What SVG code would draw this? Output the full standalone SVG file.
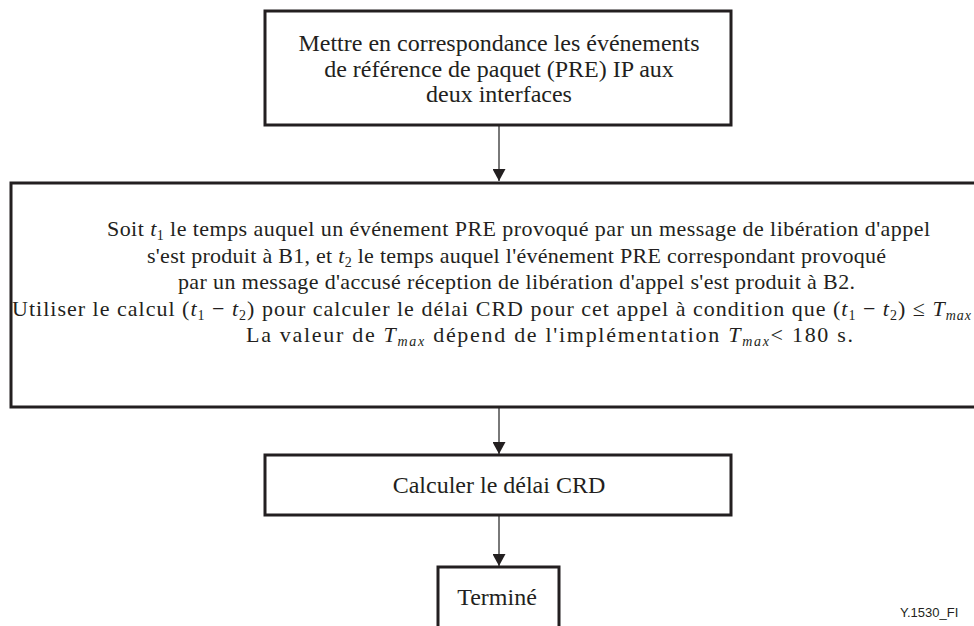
<svg xmlns="http://www.w3.org/2000/svg" width="974" height="626" viewBox="0 0 974 626">
<style>
.box{fill:#fff;stroke:#231f20;stroke-width:3}
.t{font-family:"Liberation Serif","Times New Roman",serif;font-size:24px;fill:#231f20}
.b{font-size:22px}
.c{text-anchor:middle}
.i{font-style:italic}
.sub{font-size:14px}
.conn{stroke:#4d4d4d;stroke-width:1.5;fill:none}
.foot{font-family:"Liberation Sans",Arial,sans-serif;font-size:13px;fill:#231f20}
</style>
<defs>
<marker id="ah" markerWidth="12" markerHeight="13" refX="12" refY="6.5" orient="auto" markerUnits="userSpaceOnUse">
<path d="M0,0 L12,6.5 L0,13 Z" fill="#231f20"/>
</marker>
</defs>
<g id="connectors">
<line class="conn" x1="499" y1="126" x2="499" y2="181" marker-end="url(#ah)"/>
<line class="conn" x1="499" y1="408" x2="499" y2="454" marker-end="url(#ah)"/>
<line class="conn" x1="499" y1="516" x2="499" y2="566" marker-end="url(#ah)"/>
</g>
<g id="node1">
<rect class="box" x="265" y="11" width="466" height="114"/>
<text class="t c" x="499" y="51">Mettre en correspondance les événements</text>
<text class="t c" x="499" y="77">de référence de paquet (PRE) IP aux</text>
<text class="t c" x="499" y="102">deux interfaces</text>
</g>
<g id="node2">
<rect class="box" x="11" y="183" width="1000" height="224"/>
<text class="t b" x="107" y="236" textLength="823" lengthAdjust="spacing">Soit <tspan class="i">t</tspan><tspan class="sub" dy="4">1</tspan><tspan dy="-4"> le temps auquel un événement PRE provoqué par un message de libération d'appel</tspan></text>
<text class="t b" x="147" y="263" textLength="739" lengthAdjust="spacing">s'est produit à B1, et <tspan class="i">t</tspan><tspan class="sub" dy="4">2</tspan><tspan dy="-4"> le temps auquel l'événement PRE correspondant provoqué</tspan></text>
<text class="t b" x="178" y="289" textLength="677" lengthAdjust="spacing">par un message d'accusé réception de libération d'appel s'est produit à B2.</text>
<text class="t b" x="12" y="316" textLength="959" lengthAdjust="spacing">Utiliser le calcul (<tspan class="i">t</tspan><tspan class="sub" dy="4">1</tspan><tspan dy="-4"> − </tspan><tspan class="i">t</tspan><tspan class="sub" dy="4">2</tspan><tspan dy="-4">) pour calculer le délai CRD pour cet appel à condition que (</tspan><tspan class="i">t</tspan><tspan class="sub" dy="4">1</tspan><tspan dy="-4"> − </tspan><tspan class="i">t</tspan><tspan class="sub" dy="4">2</tspan><tspan dy="-4">) ≤ </tspan><tspan class="i">T</tspan><tspan class="sub i" dy="4">max</tspan></text>
<text class="t b" x="246" y="342" textLength="607" lengthAdjust="spacing">La valeur de <tspan class="i">T</tspan><tspan class="sub i" dy="4">max</tspan><tspan dy="-4"> dépend de l'implémentation </tspan><tspan class="i">T</tspan><tspan class="sub i" dy="4">max</tspan><tspan dy="-4">&lt; 180 s.</tspan></text>
</g>
<g id="node3">
<rect class="box" x="265" y="455" width="466" height="60"/>
<text class="t c" x="499" y="493">Calculer le délai CRD</text>
</g>
<g id="node4">
<rect class="box" x="438" y="567" width="121" height="70"/>
<text class="t c" x="497" y="605">Terminé</text>
</g>
<text class="foot" x="900" y="617">Y.1530_FI</text>
</svg>
